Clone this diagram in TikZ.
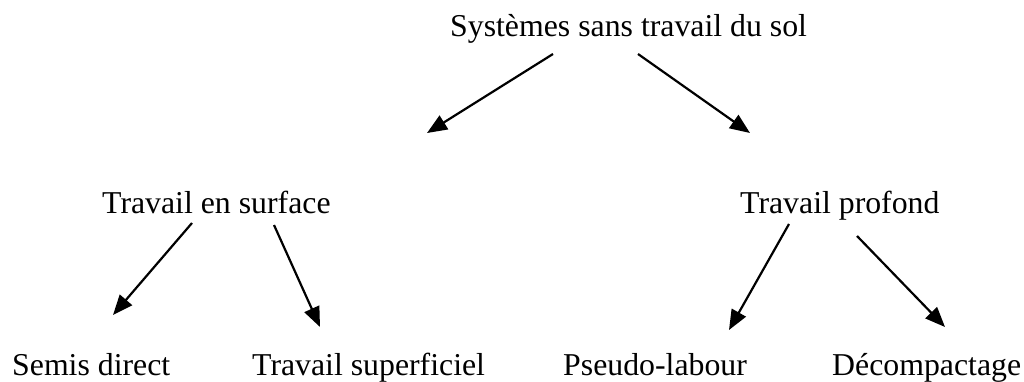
\documentclass[tikz,border=0pt]{standalone}
\usepackage{fontspec}
\setmainfont{Liberation Serif}
\usetikzlibrary{arrows.meta}
\begin{document}
\begin{tikzpicture}[x=1pt,y=1pt,
  lbl/.style={inner sep=0pt, anchor=base west, font=\fontsize{31.8}{38}\selectfont},
  arr/.style={draw=black, line width=2.2pt, -{Triangle[length=20pt,width=16pt]}}]
\useasboundingbox (0,0) rectangle (1024,-382);
\node[lbl] (top)  at (450,-37)  {Systèmes sans travail du sol};
\node[lbl] (ts)   at (102,-213) {Travail en surface};
\node[lbl] (tp)   at (740,-213) {Travail profond};
\node[lbl] (sd)   at (12,-375)  {Semis direct};
\node[lbl] (tsup) at (252,-375) {Travail superficiel};
\node[lbl] (pl)   at (563,-375) {Pseudo-labour};
\node[lbl] (dc)   at (832,-375) {Décompactage};
\coordinate (a1s) at (553,-54);  \coordinate (a1e) at (427,-133);
\coordinate (a2s) at (638,-54);  \coordinate (a2e) at (750,-133);
\coordinate (a3s) at (192,-223); \coordinate (a3e) at (113,-315);
\coordinate (a4s) at (274,-225); \coordinate (a4e) at (320,-327);
\coordinate (a5s) at (789,-224); \coordinate (a5e) at (729,-330);
\coordinate (a6s) at (857,-236); \coordinate (a6e) at (945,-327);
\draw[arr] (a1s) -- (a1e);
\draw[arr] (a2s) -- (a2e);
\draw[arr] (a3s) -- (a3e);
\draw[arr] (a4s) -- (a4e);
\draw[arr] (a5s) -- (a5e);
\draw[arr] (a6s) -- (a6e);
\end{tikzpicture}
\end{document}
